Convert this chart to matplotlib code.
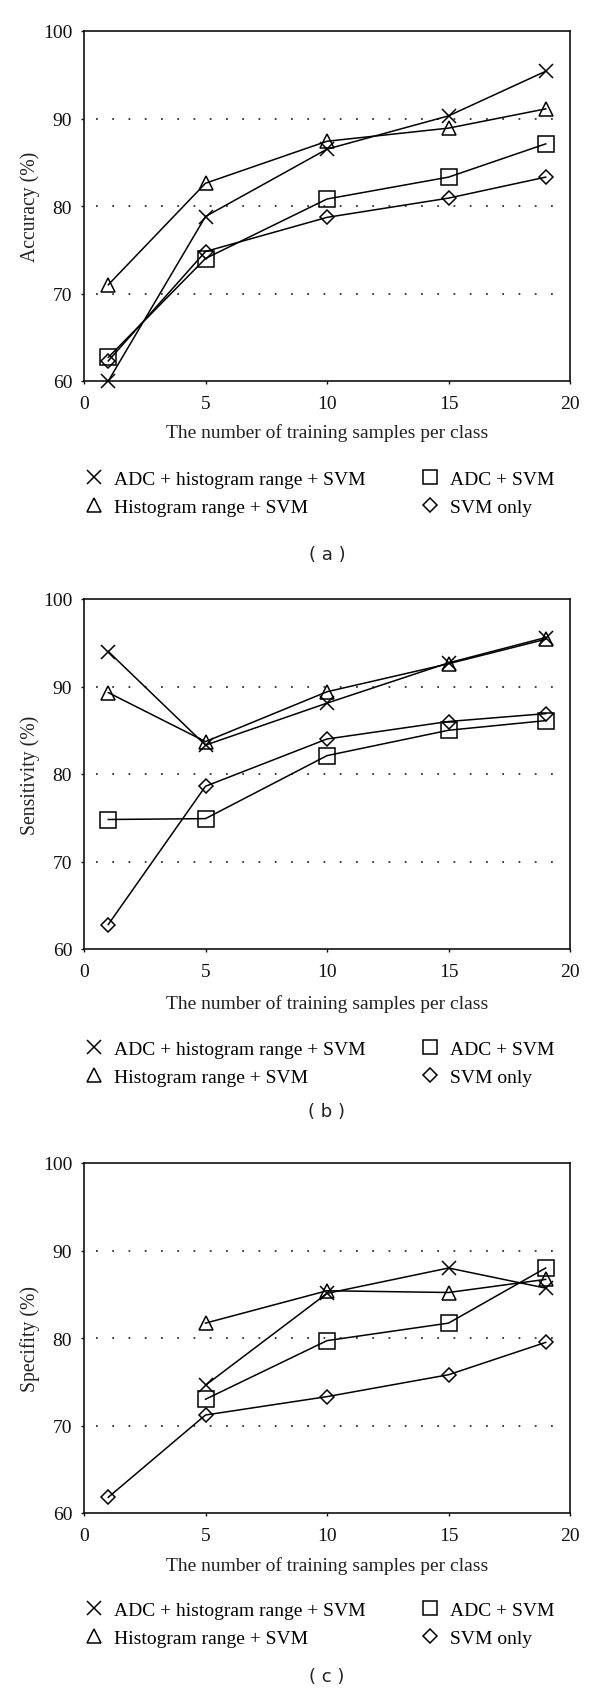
import matplotlib
matplotlib.use("Agg")
import matplotlib.pyplot as plt
from matplotlib.lines import Line2D

# ---------------- data ----------------
X_TICKS = [0, 5, 10, 15, 20]
Y_TICKS = [60, 70, 80, 90, 100]
GRID_Y = [70, 80, 90]
XLABEL = "The number of training samples per class"
SERIES = ["ADC + histogram range + SVM", "Histogram range + SVM", "ADC + SVM", "SVM only"]
MARKERS = ["x", "^", "s", "D"]

x_full = [1, 5, 10, 15, 19]
x_from5 = [5, 10, 15, 19]

# (a) Accuracy
acc_adc_hist = [60.0, 78.8, 86.5, 90.3, 95.4]
acc_hist = [71.0, 82.6, 87.4, 88.9, 91.1]
acc_adc = [62.7, 74.0, 80.8, 83.3, 87.1]
acc_svm = [62.3, 74.8, 78.7, 80.9, 83.3]

# (b) Sensitivity
sen_adc_hist = [94.0, 83.3, 88.1, 92.7, 95.6]
sen_hist = [89.3, 83.7, 89.4, 92.6, 95.4]
sen_adc = [74.8, 74.9, 82.1, 85.0, 86.1]
sen_svm = [62.8, 78.6, 84.0, 86.0, 86.9]

# (c) Specifity
spe_adc_hist = [74.6, 85.1, 88.0, 85.7]
spe_hist = [81.7, 85.4, 85.2, 86.7]
spe_adc = [73.0, 79.7, 81.7, 88.0]
spe_svm = [61.8, 71.2, 73.3, 75.8, 79.5]

PANELS = [
    dict(ylabel="Accuracy (%)", tag="( a )",
         xs=[x_full, x_full, x_full, x_full],
         ys=[acc_adc_hist, acc_hist, acc_adc, acc_svm]),
    dict(ylabel="Sensitivity (%)", tag="( b )",
         xs=[x_full, x_full, x_full, x_full],
         ys=[sen_adc_hist, sen_hist, sen_adc, sen_svm]),
    dict(ylabel="Specifity (%)", tag="( c )",
         xs=[x_from5, x_from5, x_from5, x_full],
         ys=[spe_adc_hist, spe_hist, spe_adc, spe_svm]),
]

# ---------------- layout (pixels) ----------------
W, H = 600, 1690
AX_LEFT, AX_RIGHT = 84, 570
AX_TOPS = [32, 600, 1164]
AX_H = 350
LEG_TOP_OFF = [89, 91, 88]
XLABEL_OFF = [51, 54, 52]
TAG_OFF = [173, 162, 163]

SERIF = ["Liberation Serif", "DejaVu Serif"]
plt.rcParams["font.family"] = SERIF

fig = plt.figure(figsize=(W / 100, H / 100), dpi=100)
fig.patch.set_facecolor("white")

msizes = {"x": 10.5, "^": 10.5, "s": 11, "D": 7.5}

for i, p in enumerate(PANELS):
    top = AX_TOPS[i]
    bottom = top + AX_H
    ax = fig.add_axes([AX_LEFT / W, 1 - bottom / H, (AX_RIGHT - AX_LEFT) / W, AX_H / H])
    ax.set_xlim(X_TICKS[0], X_TICKS[-1])
    ax.set_ylim(Y_TICKS[0], Y_TICKS[-1])
    ax.set_xticks(X_TICKS)
    ax.set_yticks(Y_TICKS)
    ax.tick_params(direction="out", length=2.5, width=1, labelsize=14, colors="#111111")
    ax.tick_params(axis="x", pad=7.5)
    ax.tick_params(axis="y", pad=6)
    for s in ax.spines.values():
        s.set_linewidth(1.2)
        s.set_color("#111111")
    ax.hlines(GRID_Y, 0.5, 19.8, colors="#333333", linestyles=(0, (1, 8)), linewidth=1.3, zorder=1)
    for xs, ys, m in zip(p["xs"], p["ys"], MARKERS):
        ax.plot(xs, ys, color="black", linewidth=1.1, marker=m, markersize=msizes[m],
                markerfacecolor="none", markeredgecolor="black", markeredgewidth=1.1,
                clip_on=False, zorder=3)
    ax.set_ylabel(p["ylabel"], fontsize=14.2, color="#222222")
    ax.yaxis.set_label_coords((40 - AX_LEFT) / (AX_RIGHT - AX_LEFT), 0.5)
    xc = (AX_LEFT + AX_RIGHT) / 2
    fig.text(xc / W, 1 - (bottom + XLABEL_OFF[i]) / H, XLABEL, ha="center", va="center",
             fontsize=14, color="#222222")
    handles = [Line2D([], [], linestyle="none", marker=m, markersize=msizes[m] * 0.95,
                      markerfacecolor="none", markeredgecolor="black", markeredgewidth=1.1)
               for m in MARKERS]
    fig.legend(handles, SERIES, ncol=2, loc="upper left",
               bbox_to_anchor=(AX_LEFT / W, 1 - (bottom + LEG_TOP_OFF[i]) / H),
               bbox_transform=fig.transFigure, frameon=False, fontsize=14,
               handlelength=1.0, handletextpad=0.55, columnspacing=2.8,
               labelspacing=0.56, borderpad=0, borderaxespad=0)
    fig.text(327 / W, 1 - (bottom + TAG_OFF[i]) / H, p["tag"], ha="center", va="center",
             fontsize=13, family=["DejaVu Sans"], color="#222222")

fig.savefig("out.png", dpi=100, facecolor="white")
